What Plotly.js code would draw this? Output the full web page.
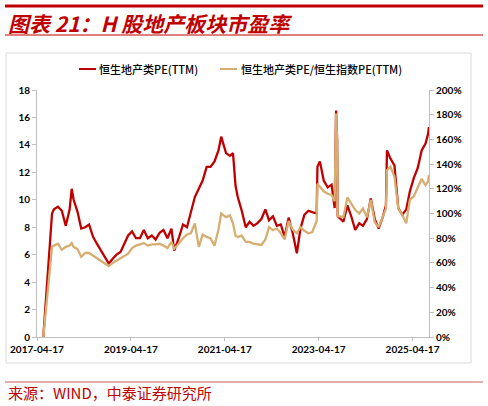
<!DOCTYPE html>
<html>
<head>
<meta charset="utf-8">
<script src="https://cdn.plot.ly/plotly-3.0.1.min.js"></script>
<style>
html,body{margin:0;padding:0;background:#fff;}
#chart{width:488px;height:406px;}
</style>
</head>
<body>
<div id="chart"></div>
<script>
// ---- data ----
const dates = [
 '2017-06-05','2017-08-12','2017-08-27','2017-09-27','2017-10-27','2017-11-27','2017-12-27','2018-01-12','2018-01-27','2018-02-27',
 '2018-03-27','2018-04-27','2018-05-27','2018-06-27','2018-07-27','2018-08-27','2018-09-27','2018-10-27','2018-11-27','2018-12-27',
 '2019-01-27','2019-02-27','2019-03-27','2019-04-27','2019-05-27','2019-06-27','2019-07-27','2019-08-27','2019-09-27','2019-10-27',
 '2019-11-27','2019-12-27','2020-01-27','2020-02-27','2020-03-20','2020-04-27','2020-05-27','2020-06-27','2020-07-27','2020-08-27',
 '2020-09-27','2020-10-27','2020-11-27','2020-12-27','2021-01-27','2021-02-27','2021-03-20','2021-04-27','2021-05-27','2021-06-20',
 '2021-07-10','2021-07-27','2021-08-27','2021-09-27','2021-10-27','2021-11-27','2021-12-27','2022-01-27','2022-02-27','2022-03-27',
 '2022-04-27','2022-05-27','2022-06-27','2022-07-27','2022-08-27','2022-09-27','2022-10-30','2022-11-27','2022-12-27','2023-01-27',
 '2023-02-27','2023-04-02','2023-04-08','2023-04-27','2023-05-27','2023-06-27','2023-07-27','2023-08-20','2023-08-31','2023-09-08',
 '2023-09-13','2023-10-27','2023-11-27','2023-12-27','2024-01-27','2024-02-27','2024-03-27','2024-04-27','2024-05-27','2024-06-27',
 '2024-07-27','2024-08-27','2024-09-22','2024-09-30','2024-10-27','2024-11-27','2024-12-27','2025-01-27','2025-02-27','2025-03-27',
 '2025-04-27','2025-05-27','2025-06-27','2025-07-27','2025-08-16','2025-08-22'
];
const propertyPE = [
 0,9.0,9.3,9.5,9.2,8.1,9.3,10.8,10.0,9.1,
 7.9,8.0,8.2,7.3,6.8,6.3,5.9,5.35,5.7,6.0,
 6.2,6.8,7.4,7.7,7.2,7.2,7.8,7.2,7.4,7.1,
 7.6,7.8,7.2,7.9,6.3,7.3,8.2,8.0,9.0,10.2,
 10.8,11.4,12.4,12.4,12.8,13.6,14.6,13.4,13.2,13.4,
 11.0,10.2,9.2,8.0,8.4,8.1,8.3,8.6,9.3,8.5,
 8.8,8.1,8.2,7.3,8.7,7.6,6.1,7.9,8.9,9.2,
 9.1,9.0,12.4,12.8,11.4,10.9,11.1,9.4,16.5,14.4,
 8.8,8.4,9.6,8.8,7.8,8.3,8.1,8.6,10.1,8.6,
 7.9,8.7,9.6,13.6,13.0,12.5,9.4,8.9,9.3,10.6,
 11.6,12.3,13.6,14.1,14.8,15.3
];
const relativePE = [
 0,73,74,75.5,70.5,73,74,76,73,71,
 65,68,68,66,64,61.5,59.5,57.5,60,62,
 64,65.5,67.5,72,74,75,76,74,75,75,
 75.5,74,72,77,71.5,76,80,83,84,92,
 73,83,81,80,74,87,100,97,98.5,92,
 82,81,82,77,77,75.5,75,74.5,79,89,
 86.5,88,84,79,94,87,84,89,86,84,
 85,94,124,122,118,116,115,110,181,160,
 98,97,113,108,103,100,104,97,111,93,
 89,97,104,135,138,130,104,99,92,111,
 114,121,128,123,126,131
];
const seriesNames = ['恒生地产类PE(TTM)', '恒生地产类PE/恒生指数PE(TTM)'];
const xTickVals = ['2017-04-17','2019-04-17','2021-04-17','2023-04-17','2025-04-17'];
const xTickText = ['2017-04-17','2019-04-17','2021-04-17','2023-04-17','2025-04-17'];
const leftTicks = [0,2,4,6,8,10,12,14,16,18];
const rightTicks = [0,20,40,60,80,100,120,140,160,180,200];
const rightTickText = ['0%','20%','40%','60%','80%','100%','120%','140%','160%','180%','200%'];
const titleText = '图表 21：H 股地产板块市盈率';
const sourceText = '来源：WIND，中泰证券研究所';

const RED = '#C00000';
const TAN = '#D6AE72';
const AXIS = '#BFBFBF';

// paper coordinate helpers (plot area: l=37, r=59, t=90, b=69)
const W = 488, H = 406, L = 37, R = 59, T = 90, B = 69;
const PW = W - L - R, PH = H - T - B;
const px = x => (x - L) / PW;
const py = y => (H - B - y) / PH;

const tickFont = {family: 'Lato, "Noto Sans", sans-serif', size: 10, color: '#000', weight: 'bold'};
const cjk = '"Noto Sans CJK SC", "Noto Sans", sans-serif';

const traces = [
  {x: dates, y: propertyPE, type: 'scatter', mode: 'lines', name: seriesNames[0],
   line: {color: RED, width: 2.3}, yaxis: 'y', showlegend: false},
  {x: dates, y: relativePE, type: 'scatter', mode: 'lines', name: seriesNames[1],
   line: {color: TAN, width: 2.3}, yaxis: 'y2', showlegend: false}
];

const layout = {
  width: W, height: H,
  margin: {l: L, r: R, t: T, b: B, pad: 0},
  paper_bgcolor: '#fff', plot_bgcolor: '#fff',
  showlegend: false,
  xaxis: {
    type: 'date', range: ['2017-04-17', '2025-08-23'],
    tickmode: 'array', tickvals: xTickVals, ticktext: xTickText,
    showgrid: false, zeroline: false, showline: true, linecolor: AXIS, linewidth: 1,
    ticks: 'outside', ticklen: 3, tickcolor: AXIS, tickfont: tickFont, fixedrange: true
  },
  yaxis: {
    range: [0, 18], tickmode: 'array', tickvals: leftTicks,
    showgrid: false, zeroline: false, showline: true, linecolor: AXIS, linewidth: 1,
    ticks: 'outside', ticklen: 4, tickcolor: AXIS, tickfont: tickFont
  },
  yaxis2: {
    range: [0, 200], overlaying: 'y', side: 'right', tickmode: 'array', tickvals: rightTicks,
    ticktext: rightTickText,
    showgrid: false, zeroline: false, showline: true, linecolor: AXIS, linewidth: 1,
    ticks: 'outside', ticklen: 4, tickcolor: AXIS, tickfont: tickFont
  },
  shapes: [
    {type: 'line', xref: 'paper', yref: 'paper', x0: px(5), x1: px(483), y0: py(6), y1: py(6), line: {color: RED, width: 3}},
    {type: 'line', xref: 'paper', yref: 'paper', x0: px(5), x1: px(483), y0: py(35), y1: py(35), line: {color: RED, width: 1}},
    {type: 'rect', xref: 'paper', yref: 'paper', x0: px(6), x1: px(471), y0: py(363), y1: py(53), line: {color: '#D9D9D9', width: 1}, layer: 'below'},
    {type: 'line', xref: 'paper', yref: 'paper', x0: px(79), x1: px(96), y0: py(69), y1: py(69), line: {color: RED, width: 2}},
    {type: 'line', xref: 'paper', yref: 'paper', x0: px(220), x1: px(237), y0: py(69), y1: py(69), line: {color: TAN, width: 2}},
    {type: 'line', xref: 'paper', yref: 'paper', x0: px(5), x1: px(483), y0: py(382), y1: py(382), line: {color: '#D05A5A', width: 1}}
  ],
  annotations: [
    {xref: 'paper', yref: 'paper', x: px(6), y: py(23), xanchor: 'left', yanchor: 'middle', showarrow: false,
     text: '<b><i>' + titleText + '</i></b>', font: {family: cjk, size: 21, color: RED}},
    {xref: 'paper', yref: 'paper', x: px(97), y: py(69), xanchor: 'left', yanchor: 'middle', showarrow: false,
     text: seriesNames[0], font: {family: cjk, size: 11, color: '#000', weight: 500}},
    {xref: 'paper', yref: 'paper', x: px(239), y: py(69), xanchor: 'left', yanchor: 'middle', showarrow: false,
     text: seriesNames[1], font: {family: cjk, size: 11, color: '#000', weight: 500}},
    {xref: 'paper', yref: 'paper', x: px(6), y: py(392), xanchor: 'left', yanchor: 'middle', showarrow: false,
     text: sourceText, font: {family: cjk, size: 15, color: RED}}
  ]
};

Plotly.newPlot('chart', traces, layout, {staticPlot: true, displayModeBar: false});
</script>
</body>
</html>
